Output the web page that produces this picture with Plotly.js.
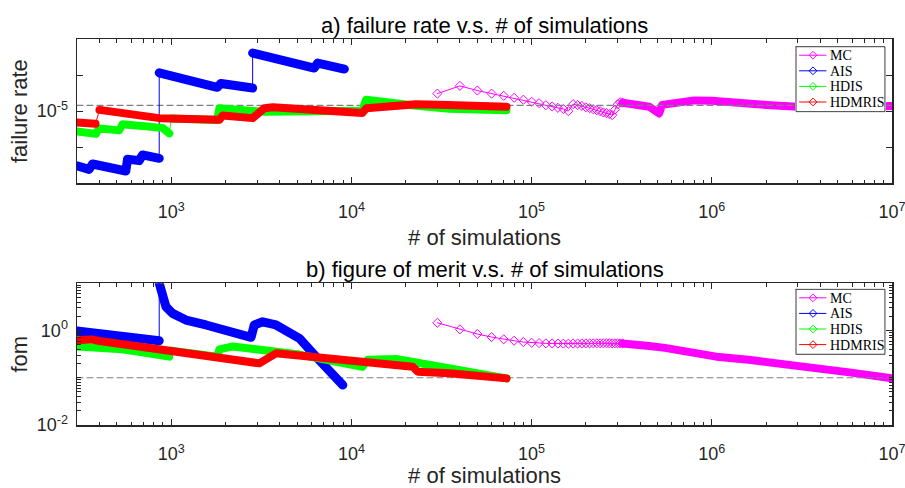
<!DOCTYPE html>
<html>
<head>
<meta charset="utf-8">
<script src="https://cdn.plot.ly/plotly-3.0.1.min.js"></script>
<style>
html,body{margin:0;padding:0;background:#fff;}
#chart{width:905px;height:488px;}
.js-line{stroke-linejoin:round !important;stroke-linecap:round !important;}
</style>
</head>
<body>
<div id="chart"></div>
<script>
// ---------------- DATA ----------------
const seriesNames = ['MC', 'AIS', 'HDIS', 'HDMRIS'];
const seriesColors = ['#FF00FF', '#0000FF', '#00FF00', '#FF0000'];

// reference levels (dashed lines)
const refFailureRate = 1.2e-5;
const refFom = 0.1;
const refX = [300, 1e7];

// MC: individually visible markers (every 1e4 simulations)
const mcSparseX = [30000, 40000, 50000, 60000, 70000, 80000, 90000, 100000, 110000, 120000,
  130000, 140000, 150000, 160000, 170000, 180000, 190000, 200000, 210000, 220000,
  230000, 240000, 250000, 260000, 270000, 280000, 290000, 300000, 310000, 320000];
const mcSparseFr = [1.75e-5, 2.24e-5, 1.93e-5, 1.75e-5, 1.63e-5, 1.53e-5, 1.44e-5, 1.35e-5, 1.29e-5, 1.21e-5,
  1.16e-5, 1.11e-5, 1.07e-5, 1.00e-5, 1.25e-5, 1.21e-5, 1.18e-5, 1.13e-5, 1.10e-5, 1.06e-5,
  1.03e-5, 1.00e-5, 0.96e-5, 0.94e-5, 0.91e-5, 0.88e-5, 1.05e-5, 1.24e-5, 1.33e-5, 1.31e-5];
const mcSparseFom = [1.46, 1.06, 0.843, 0.728, 0.651, 0.608, 0.571, 0.552, 0.542, 0.536,
  0.532, 0.530, 0.528, 0.526, 0.530, 0.531, 0.532, 0.533, 0.534, 0.535,
  0.536, 0.537, 0.537, 0.537, 0.537, 0.536, 0.535, 0.534, 0.533, 0.532];
// MC: dense part (markers merge into a band)
const mcBandFrX = [320000, 400000, 450000, 500000, 510000, 530000, 600000, 700000, 800000, 1000000,
  1300000, 2000000, 3000000, 5000000, 10000000];
const mcBandFr = [1.31e-5, 1.24e-5, 1.15e-5, 0.96e-5, 0.93e-5, 1.22e-5, 1.28e-5, 1.37e-5, 1.41e-5, 1.39e-5,
  1.35e-5, 1.22e-5, 1.15e-5, 1.13e-5, 1.18e-5];
const mcBandFomX = [320000, 400000, 450000, 550000, 700000, 1060000, 1600000, 2500000, 4000000, 5800000, 10000000];
const mcBandFom = [0.532, 0.51, 0.47, 0.43, 0.37, 0.28, 0.24, 0.20, 0.16, 0.13, 0.098];

// AIS (null = jump, drawn as a thin line)
const aisFrX = [300, 350, 366, 560, 572, 664, 693, 858, 858, 858, 1800, 1888, 2830, 2830, 2830, 6220, 6500, 9140];
const aisFr = [1.74e-6, 1.56e-6, 1.85e-6, 1.48e-6, 2.16e-6, 2.06e-6, 2.47e-6, 2.22e-6, null, 3.40e-5,
  2.14e-5, 2.42e-5, 2.09e-5, null, 6.39e-5, 3.96e-5, 4.64e-5, 3.83e-5];
const aisFomX = [300, 858, 858, 858, 895, 935, 1017, 1207, 1560, 2193, 2773, 2890, 3215, 3816, 4527, 5142, 6367, 7875, 8960];
const aisFom = [0.975, 0.608, null, 10.0, 5.2, 3.19, 2.31, 1.67, 1.31, 0.944, 0.718, 1.31, 1.53, 1.31, 0.873, 0.684, 0.279, 0.114, 0.070];

// HDIS
const hdisFrX = [300, 382, 398, 514, 536, 895, 975, 990, 1000, 1800, 1850, 2965, 3300, 11500, 12050, 22960, 35000, 72600];
const hdisFr = [5.21e-6, 4.84e-6, 5.77e-6, 5.41e-6, 6.56e-6, 5.86e-6, 4.92e-6, null, 7.9e-6, 7.55e-6,
  1.094e-5, 0.987e-5, 0.977e-5, 1.01e-5, 1.436e-5, 1.186e-5, 1.08e-5, 1.03e-5];
const hdisFomX = [300, 382, 398, 536, 975, 990, 1000, 1800, 1850, 2200, 2950, 5140, 11500, 12300, 17700, 27000, 72600];
const hdisFom = [0.46, 0.44, 0.45, 0.40, 0.28, null, 0.375, 0.28, 0.40, 0.46, 0.40, 0.31, 0.17, 0.24, 0.25, 0.19, 0.097];

// HDMRIS
const hdmrisFrX = [300, 380, 390, 400, 580, 858, 1850, 1928, 2830, 3290, 3660, 7840, 11500, 12100, 21800, 22900, 34200, 72600];
const hdmrisFr = [6.95e-6, 6.67e-6, null, 1.04e-5, 8.89e-6, 8.0e-6, 7.57e-6, 8.7e-6, 8.0e-6, 1.1e-5,
  1.13e-5, 0.99e-5, 0.94e-5, 1.10e-5, 1.19e-5, 1.25e-5, 1.22e-5, 1.15e-5];
const hdmrisFomX = [300, 360, 400, 935, 2955, 3080, 3816, 7875, 21900, 23340, 35000, 72600];
const hdmrisFom = [0.62, 0.65, 0.60, 0.386, 0.218, 0.202, 0.329, 0.258, 0.171, 0.134, 0.125, 0.097];

// tick labels
const xTickVals = [1e3, 1e4, 1e5, 1e6, 1e7];
const xTickText = ['10<sup>3</sup>', '10<sup>4</sup>', '10<sup>5</sup>', '10<sup>6</sup>', '10<sup>7</sup>'];
const frTickVals = [3.1623e-6, 1e-5, 3.1623e-5];
const frTickText = ['', '10<sup>-5</sup>', ''];
const fomTickVals = [0.01, 1];
const fomTickText = ['10<sup>-2</sup>', '10<sup>0</sup>'];

// ---------------- FIGURE ----------------
const axisColor = '#262626';
const sans = 'Liberation Sans, Arial, Helvetica, sans-serif';
const serif = 'Liberation Serif, Times New Roman, serif';
const labelSize = 22;

function decadeMinors(lo, hi, fromK, toK) {
  const v = [];
  for (let k = fromK; k <= toK; k++) for (let m = 1; m <= 9; m++) {
    const t = m * Math.pow(10, k);
    if (t >= lo * 0.999 && t <= hi * 1.001) v.push(t);
  }
  return v;
}
const xMinor = decadeMinors(300, 1e7, 2, 6).filter(v => xTickVals.indexOf(v) < 0);
const fomMinor = decadeMinors(0.01, 10, -2, 1).filter(v => fomTickVals.indexOf(v) < 0);

const traces = [];
function thin(x, y, color, xa, ya) {
  traces.push({x, y, xaxis: xa, yaxis: ya, mode: 'lines', connectgaps: true,
    line: {color, width: 1}, showlegend: false, hoverinfo: 'skip'});
}
function band(x, y, color, xa, ya, w) {
  traces.push({x, y, xaxis: xa, yaxis: ya, mode: 'lines', connectgaps: false,
    line: {color, width: w}, showlegend: false, hoverinfo: 'skip'});
}
function sparse(x, y, xa, ya) {
  traces.push({x, y, xaxis: xa, yaxis: ya, mode: 'lines+markers', showlegend: false,
    line: {color: seriesColors[0], width: 1},
    marker: {symbol: 'diamond-open', size: 7, color: seriesColors[0], line: {width: 1, color: seriesColors[0]}}});
}
function dashed(y, xa, ya) {
  traces.push({x: refX, y: [y, y], xaxis: xa, yaxis: ya, mode: 'lines', showlegend: false,
    line: {color: '#808080', width: 1.2, dash: '6px,4px'}, hoverinfo: 'skip'});
}

const panels = [
  {xa: 'x', ya: 'y', ref: refFailureRate,
   mc: [mcSparseX, mcSparseFr, mcBandFrX, mcBandFr],
   others: [[aisFrX, aisFr, 9], [hdisFrX, hdisFr, 8], [hdmrisFrX, hdmrisFr, 8]]},
  {xa: 'x2', ya: 'y2', ref: refFom,
   mc: [mcSparseX, mcSparseFom, mcBandFomX, mcBandFom],
   others: [[aisFomX, aisFom, 9], [hdisFomX, hdisFom, 8], [hdmrisFomX, hdmrisFom, 8]]}
];
panels.forEach(p => {
  band(p.mc[2], p.mc[3], seriesColors[0], p.xa, p.ya, 8);
  sparse(p.mc[0], p.mc[1], p.xa, p.ya);
  dashed(p.ref, p.xa, p.ya);
  p.others.forEach((s, j) => {
    thin(s[0], s[1], seriesColors[j + 1], p.xa, p.ya);
    band(s[0], s[1], seriesColors[j + 1], p.xa, p.ya, s[2]);
  });
});

// ---- legend boxes (MATLAB style, drawn on their own small axes in pixel units) ----
const legW = 89, legH = 65;
const legRowY = [8.5, 24.1, 39.7, 55.3];
const legendAnnotations = [];
[['x3', 'y3'], ['x4', 'y4']].forEach(([lx, ly]) => {
  traces.push({x: [0, legW, legW, 0, 0], y: [0, 0, legH, legH, 0], xaxis: lx, yaxis: ly,
    mode: 'lines', fill: 'toself', fillcolor: '#ffffff', line: {color: '#3a3a3a', width: 1},
    showlegend: false, hoverinfo: 'skip'});
  seriesNames.forEach((name, i) => {
    traces.push({x: [3.5, 17, 30], y: [legRowY[i], legRowY[i], legRowY[i]], xaxis: lx, yaxis: ly,
      mode: 'lines+markers', showlegend: false, hoverinfo: 'skip',
      line: {color: seriesColors[i], width: 1},
      marker: {symbol: 'diamond-open', size: 6, color: seriesColors[i], opacity: [0, 1, 0],
               line: {width: 1, color: seriesColors[i]}}});
    legendAnnotations.push({text: name, xref: lx, yref: ly, x: 32, y: legRowY[i] + 0.5,
      xanchor: 'left', yanchor: 'middle', showarrow: false,
      font: {family: serif, size: 14, color: '#000000'}});
  });
});

function xAxis(anchor) {
  return {type: 'log', range: [Math.log10(300), 7], anchor, domain: [0, 1],
    tickmode: 'array', tickvals: xTickVals, ticktext: xTickText,
    ticks: 'inside', ticklen: 6, tickwidth: 1, tickcolor: axisColor,
    showline: true, linecolor: axisColor, linewidth: 1.5, mirror: 'ticks',
    showgrid: false, zeroline: false, ticklabelstandoff: 12, ticklabeloverflow: 'allow',
    tickfont: {family: sans, size: 18, color: axisColor},
    minor: {tickmode: 'array', tickvals: xMinor, ticks: 'inside', ticklen: 3.5, tickwidth: 1, tickcolor: axisColor, showgrid: false},
    title: {text: '# of simulations', font: {family: sans, size: labelSize, color: axisColor}, standoff: 8}};
}
function yAxisBase(anchor, domain, range, vals, text, label) {
  return {type: 'log', range, anchor, domain,
    tickmode: 'array', tickvals: vals, ticktext: text,
    ticks: 'inside', ticklen: 6, tickwidth: 1, tickcolor: axisColor,
    showline: true, linecolor: axisColor, linewidth: 1.5, mirror: 'ticks',
    showgrid: false, zeroline: false, ticklabelstandoff: 4,
    tickfont: {family: sans, size: 18, color: axisColor},
    title: {text: label, font: {family: sans, size: labelSize, color: axisColor}, standoff: 3}};
}
function hiddenAxis(anchor, domain, range) {
  return {anchor, domain, range, visible: false, fixedrange: true, showgrid: false, zeroline: false};
}

const yTop = yAxisBase('x', [0.6262, 1], [-6, -4], frTickVals, frTickText, 'failure rate');
const yBot = yAxisBase('x2', [0, 0.3671], [-2, 1], fomTickVals, fomTickText, 'fom');
yBot.minor = {tickmode: 'array', tickvals: fomMinor, ticks: 'inside', ticklen: 3.5, tickwidth: 1, tickcolor: axisColor, showgrid: false};

const layout = {
  width: 905, height: 488,
  margin: {l: 77, r: 13, t: 39, b: 63, pad: 0},
  paper_bgcolor: '#ffffff', plot_bgcolor: '#ffffff',
  showlegend: false,
  xaxis: xAxis('y'),
  xaxis2: xAxis('y2'),
  yaxis: yTop,
  yaxis2: yBot,
  xaxis3: hiddenAxis('y3', [0.8810, 0.9926], [-1, legW + 1]),
  yaxis3: hiddenAxis('x3', [0.8091, 0.9826], [legH + 1, -1]),
  xaxis4: hiddenAxis('y4', [0.8810, 0.9926], [-1, legW + 1]),
  yaxis4: hiddenAxis('x4', [0.1806, 0.3541], [legH + 1, -1]),
  annotations: [
    {text: 'a) failure rate v.s. # of simulations', xref: 'paper', yref: 'paper', x: 0.5, y: 1,
     xanchor: 'center', yanchor: 'bottom', yshift: -1, showarrow: false,
     font: {family: sans, size: labelSize, color: '#000000'}},
    {text: 'b) figure of merit v.s. # of simulations', xref: 'paper', yref: 'paper', x: 0.5, y: 0.3671,
     xanchor: 'center', yanchor: 'bottom', yshift: -1, showarrow: false,
     font: {family: sans, size: labelSize, color: '#000000'}}
  ].concat(legendAnnotations)
};

Plotly.newPlot('chart', traces, layout, {staticPlot: true, displayModeBar: false});
</script>
</body>
</html>
